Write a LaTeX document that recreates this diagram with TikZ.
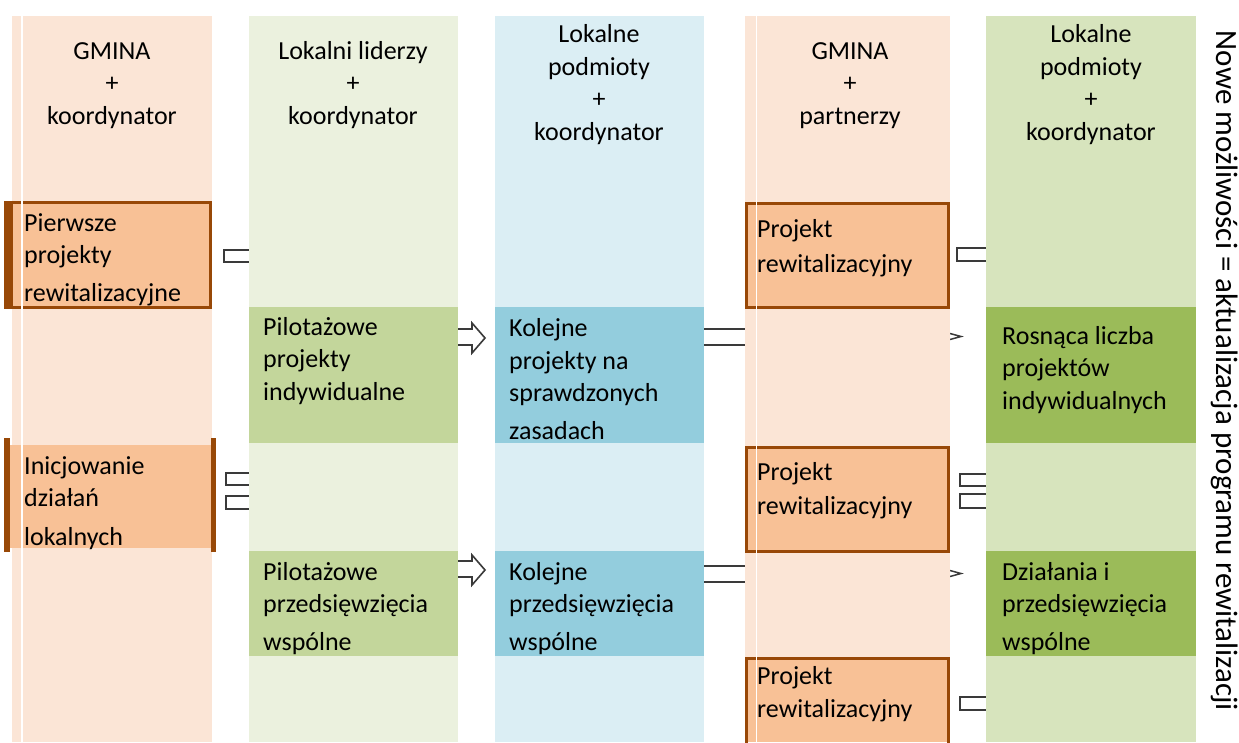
\documentclass[tikz,border=0pt]{standalone}
\usepackage{fontspec}
\setmainfont{Carlito}
\definecolor{peachL}{HTML}{FBE5D6}
\definecolor{greenL}{HTML}{EBF1DE}
\definecolor{blueL}{HTML}{DBEEF4}
\definecolor{greenFL}{HTML}{D7E4BD}
\definecolor{peachB}{HTML}{F8C196}
\definecolor{brownB}{HTML}{984807}
\definecolor{greenTB}{HTML}{C3D69B}
\definecolor{blueB}{HTML}{93CDDD}
\definecolor{greenFB}{HTML}{9BBB59}
\definecolor{arrg}{HTML}{3A3A3A}
\begin{document}
\begin{tikzpicture}[x=1pt,y=-1pt,
  every node/.style={inner sep=0pt, font=\fontsize{26}{32.5}\selectfont},
  head/.style={align=center, anchor=base},
  btext/.style={align=left, anchor=base west},
  frag/.style={draw=arrg, line width=2},
  pborder/.style={draw=brownB, line width=3}]
\useasboundingbox (0,0) rectangle (1239,742);
\fill[white] (0,0) rectangle (1239,742);
% arrow fragments between columns
\draw[frag] (251,250) -- (224,250) -- (224,262) -- (251,262);
\draw[frag] (251,473) -- (226,473) -- (226,485) -- (251,485);
\draw[frag] (251,496) -- (226,496) -- (226,509) -- (251,509);
\draw[frag,line width=1.6,line join=miter] (456,329) -- (472,329) -- (472,323) -- (485,338) -- (472,353) -- (472,345) -- (456,345);
\draw[frag,line width=1.6,line join=miter] (456,561) -- (472,561) -- (472,555) -- (485,570) -- (472,585) -- (472,577) -- (456,577);
\draw[frag] (702,329) -- (747,329);
\draw[frag] (702,345) -- (747,345);
\draw[frag] (702,566) -- (747,566);
\draw[frag] (702,582) -- (747,582);
\draw[frag,line width=1.5] (950,333.5) -- (961,336.5) -- (950,339.5);
\draw[frag,line width=1.5] (950,570.5) -- (961,573.5) -- (950,576.5);
\draw[frag] (988,248) -- (957,248) -- (957,261) -- (988,261);
\draw[frag] (988,474) -- (960,474) -- (960,486) -- (988,486);
\draw[frag] (988,494) -- (960,494) -- (960,508) -- (988,508);
\draw[frag] (988,697) -- (960,697) -- (960,710) -- (988,710);
% columns
\fill[peachL] (12,16) rectangle (212,742);
\fill[greenL] (249,16) rectangle (458,742);
\fill[blueL] (495,16) rectangle (704,742);
\fill[peachL] (745,16) rectangle (950,742);
\fill[greenFL] (986,16) rectangle (1196,742);
% boxes column 1
\fill[peachB] (13,202) rectangle (212,308);
\draw[pborder] (13,202.5) -- (210.5,202.5) -- (210.5,307.5) -- (13,307.5);
\fill[brownB] (4,201) rectangle (13,309);
\fill[peachB] (10,445) rectangle (212,548);
\fill[brownB] (4,438) rectangle (10,552);
\fill[brownB] (211,438) rectangle (216,552);
% column 2
\fill[greenTB] (249,307) rectangle (458,443);
\fill[greenTB] (249,551) rectangle (458,656);
% column 3
\fill[blueB] (495,307) rectangle (704,443);
\fill[blueB] (495,551) rectangle (704,656);
% column 4
\filldraw[fill=peachB, pborder] (746.5,203.5) rectangle (948.5,307.5);
\filldraw[fill=peachB, pborder] (746.5,447.5) rectangle (948.5,551.5);
\fill[peachB] (746.5,658.5) rectangle (948.5,742);
\draw[pborder] (746.5,745) -- (746.5,658.5) -- (948.5,658.5) -- (948.5,745);
% column 5
\fill[greenFB] (986,307) rectangle (1196,443);
\fill[greenFB] (986,551) rectangle (1196,656);
% white guide lines
\draw[white, line width=1.2] (22,16) -- (22,742);
\draw[white, line width=1.2] (756.5,16) -- (756.5,742);
% headers (anchor = baseline of last line)
\node[head] (h1) at (112,124) {GMINA\\+\\koordynator};
\node[head] (h2) at (353,124) {Lokalni liderzy\\+\\koordynator};
\node[head] (h3) at (599,140) {Lokalne\\podmioty\\+\\koordynator};
\node[head] (h4) at (850,124) {GMINA\\+\\partnerzy};
\node[head] (h5) at (1091,140) {Lokalne\\podmioty\\+\\koordynator};
% box texts (anchor = baseline of last line)
\node[btext] (t11) at (24,301) {Pierwsze\\projekty\\[5pt]rewitalizacyjne};
\node[btext] (t12) at (24,545) {Inicjowanie\\działań\\[6pt]lokalnych};
\node[btext] (t21) at (263,400) {Pilotażowe\\projekty\\indywidualne};
\node[btext] (t22) at (263,650) {Pilotażowe\\przedsięwzięcia\\[5pt]wspólne};
\node[btext] (t31) at (509,439) {Kolejne\\projekty na\\sprawdzonych\\[5pt]zasadach};
\node[btext] (t32) at (509,650) {Kolejne\\przedsięwzięcia\\[5pt]wspólne};
\node[btext] (t41) at (757,272) {Projekt\\[2pt]rewitalizacyjny};
\node[btext] (t42) at (757,514) {Projekt\\[1pt]rewitalizacyjny};
\node[btext] (t43) at (757,717) {Projekt\\rewitalizacyjny};
\node[btext] (t51) at (1002,409) {Rosnąca liczba\\projektów\\indywidualnych};
\node[btext] (t52) at (1002,650) {Działania i\\przedsięwzięcia\\[5pt]wspólne};
% vertical text
\node[rotate=-90, font=\fontsize{31}{37}\selectfont] (vt) at (1225,371) {Nowe możliwości = aktualizacja programu rewitalizacji};
\end{tikzpicture}
\end{document}
